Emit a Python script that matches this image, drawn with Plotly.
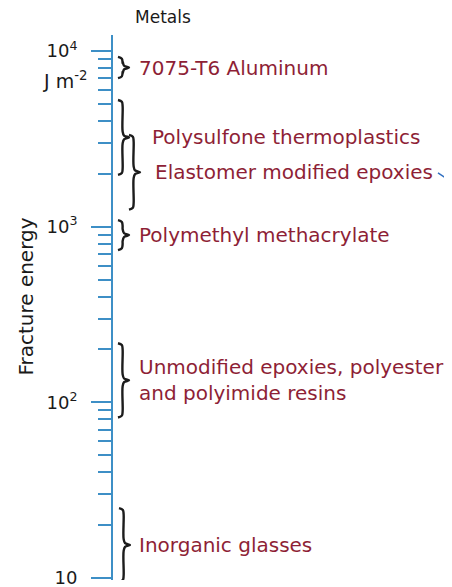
import numpy as np
import plotly.graph_objects as go

# ---- data ----
materials = [
    "7075-T6 Aluminum",
    "Polysulfone thermoplastics",
    "Elastomer modified epoxies",
    "Polymethyl methacrylate",
    "Unmodified epoxies, polyester<br>and polyimide resins",
    "Inorganic glasses",
]
energy_low = [7000, 1970, 1250, 735, 82, 9.5]      # J m^-2
energy_high = [9250, 5260, 3330, 1090, 217, 25]    # J m^-2

tick_values = [10, 100, 1000, 10000]
tick_labels = ["10", "10<sup>2</sup>", "10<sup>3</sup>", "10<sup>4</sup>"]

pointer_x = [325, 345]
pointer_y = [2023, 1700]

# ---- style / positions (pixel offsets right of the axis) ----
brace_x0 = [5, 5, 16, 5, 5, 6]
label_x = [24, 37, 40, 24, 24, 24]
BRACE_W = 11
CURL = 0.035   # in decades
LABEL_COLOR = "#8e1f36"
AXIS_BLUE = "#3d8fc6"
FONT = "DejaVu Sans"

fig = go.Figure()


def brace(x0, lo, hi, w=BRACE_W):
    top, bot = np.log10(hi), np.log10(lo)
    mid = (top + bot) / 2
    xs = [x0, x0 + w * 0.35, x0 + w * 0.42, x0 + w * 0.42, x0 + w * 0.55, x0 + w,
          x0 + w * 0.55, x0 + w * 0.42, x0 + w * 0.42, x0 + w * 0.35, x0]
    ys = [top, top - CURL * 0.3, top - CURL, mid + CURL, mid + CURL * 0.3, mid,
          mid - CURL * 0.3, mid - CURL, bot + CURL, bot + CURL * 0.3, bot]
    return xs, [10 ** v for v in ys]


annotations = []
for name, lo, hi, bx, lx in zip(materials, energy_low, energy_high, brace_x0, label_x):
    xs, ys = brace(bx, lo, hi)
    fig.add_trace(go.Scatter(
        x=xs, y=ys, mode="lines",
        line=dict(color="#1c1c1c", width=2.4, shape="spline", smoothing=1.0),
        cliponaxis=False, hoverinfo="skip", showlegend=False))
    annotations.append(dict(
        x=lx, y=(np.log10(lo) + np.log10(hi)) / 2, xref="x", yref="y",
        text=name, showarrow=False, xanchor="left", yanchor="middle", align="left",
        font=dict(family=FONT, size=20, color=LABEL_COLOR)))

fig.add_trace(go.Scatter(
    x=pointer_x, y=pointer_y, mode="lines",
    line=dict(color="#2f6fc0", width=1.5),
    cliponaxis=False, hoverinfo="skip", showlegend=False))

annotations += [
    dict(x=0, xref="paper", xshift=50, y=1, yref="paper", yshift=18,
         text="Metals", showarrow=False, xanchor="center", yanchor="middle",
         font=dict(family=FONT, size=17, color="#1a1a1a")),
    dict(x=0, xref="paper", xshift=-24, y=np.log10(tick_values[-1]), yref="y", yshift=-29,
         text="J m<sup>-2</sup>", showarrow=False, xanchor="right", yanchor="middle",
         font=dict(family=FONT, size=19, color="#1a1a1a")),
    dict(x=0, xref="paper", xshift=-87, y=0.52, yref="paper",
         text="Fracture energy", showarrow=False, textangle=-90,
         xanchor="center", yanchor="middle",
         font=dict(family=FONT, size=20, color="#1a1a1a")),
]

# the page body has an 8px margin, so the figure is offset by (8, 8)
fig.update_layout(
    width=444, height=579, autosize=False,
    margin=dict(l=105, r=0, t=27, b=7, pad=0),
    paper_bgcolor="white", plot_bgcolor="white",
    annotations=annotations,
    xaxis=dict(range=[0, 339], visible=False, fixedrange=True),
    yaxis=dict(
        type="log", range=[0.9886, 4.091],
        showgrid=False, zeroline=False,
        showline=True, linecolor=AXIS_BLUE, linewidth=2,
        tickmode="array", tickvals=tick_values, ticktext=tick_labels,
        ticks="outside", ticklen=20, tickwidth=2, tickcolor=AXIS_BLUE,
        ticklabelstandoff=10, ticklabeloverflow="allow",
        tickfont=dict(family=FONT, size=18, color="#1a1a1a"),
        minor=dict(dtick="D1", ticks="outside", ticklen=13, tickwidth=1.5,
                   tickcolor=AXIS_BLUE, showgrid=False),
    ),
)

fig.write_html("out.html")
